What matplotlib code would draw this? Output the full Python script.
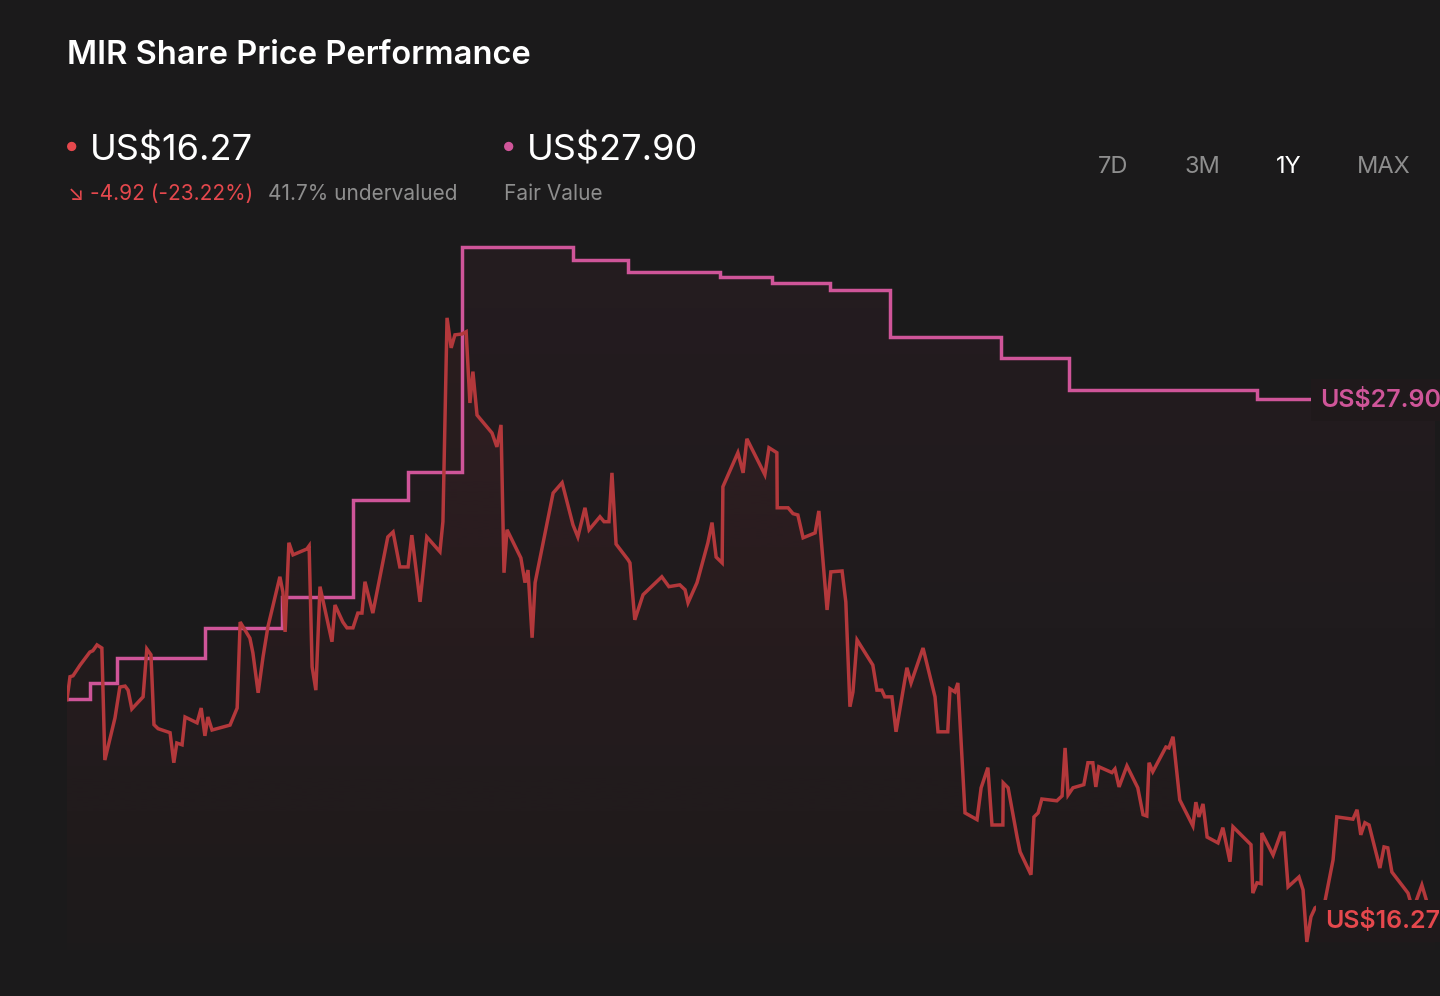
import matplotlib
matplotlib.use("Agg")
import matplotlib.pyplot as plt
import numpy as np
from matplotlib.colors import to_rgba

# ---------------- data ----------------
price_days = [0.0, 0.8, 1.6, 3.5, 6.1, 6.9, 8.0, 9.3, 10.1, 12.8, 14.1, 15.5, 16.3, 17.3, 20.3,
              21.3, 22.4, 23.2, 24.3, 27.5, 28.5, 29.3, 30.7, 31.5, 34.7, 35.8, 36.8, 37.6, 38.7,
              43.5, 44.3, 45.4, 46.2, 48.8, 49.6, 51.0, 52.3, 53.6, 56.8, 57.6, 58.2, 59.2, 60.3,
              64.0, 64.6, 65.4, 66.4, 67.5, 70.7, 71.5, 73.6, 74.7, 76.3, 77.6, 78.7, 79.5, 81.6,
              85.6, 87.0, 88.8, 91.0, 92.0, 94.2, 96.0, 99.5, 100.3, 101.4, 102.5, 103.5, 105.4,
              106.5, 107.5, 108.3, 109.4, 113.4, 114.7, 115.8, 116.6, 117.4, 121.1, 122.2, 123.0,
              124.1, 124.9, 129.7, 132.1, 135.0, 136.3, 138.2, 139.3, 142.2, 143.3, 144.6, 145.4,
              146.5, 149.7, 150.2, 151.5, 153.7, 158.7, 160.6, 163.5, 164.9, 165.7, 168.1, 171.0,
              172.1, 173.2, 174.8, 175.0, 179.0, 180.4, 181.4, 186.2, 187.3, 189.4, 189.5, 192.4,
              193.7, 195.0, 196.4, 199.6, 200.6, 202.8, 203.8, 206.8, 207.8, 208.9, 209.7, 210.8,
              215.0, 216.1, 217.4, 218.2, 220.1, 221.2, 224.1, 225.2, 228.4, 231.6, 232.4, 235.0,
              235.6, 236.9, 237.7, 239.6, 242.8, 243.9, 245.7, 246.8, 249.7, 249.8, 251.1, 253.5,
              254.3, 257.2, 258.0, 259.1, 260.1, 264.1, 265.5, 266.3, 267.1, 268.4, 271.3, 272.4,
              273.7, 274.5, 275.3, 278.8, 279.6, 280.7, 282.8, 285.7, 287.1, 288.1, 288.7, 289.7,
              293.2, 294.0, 295.1, 296.9, 300.4, 301.2, 302.0, 303.1, 304.2, 307.1, 308.4, 310.3,
              311.1, 315.9, 316.4, 317.5, 318.6, 318.8, 321.8, 323.9, 324.7, 325.8, 328.7, 329.8,
              330.8, 331.9, 333.0, 335.6, 337.8, 338.8, 343.1, 344.2, 345.2, 346.3, 347.4, 350.3,
              351.4, 352.4, 353.5, 357.8, 359.1, 361.5, 363.1, 365.0]
price_values = [21.19, 21.70, 21.72, 21.96, 22.25, 22.28, 22.41, 22.34, 19.84, 20.78, 21.47, 21.49,
                21.40, 20.98, 21.25, 22.32, 22.19, 20.63, 20.54, 20.45, 19.78, 20.22, 20.18, 20.80,
                20.67, 21.00, 20.38, 20.80, 20.51, 20.62, 20.78, 21.00, 22.92, 22.56, 22.23, 21.34,
                22.14, 22.81, 23.93, 23.59, 22.70, 24.69, 24.42, 24.55, 24.62, 21.92, 21.40, 23.71,
                22.48, 23.30, 22.92, 22.79, 22.79, 23.12, 23.12, 23.82, 23.12, 24.82, 24.93, 24.15,
                24.15, 24.86, 23.37, 24.82, 24.49, 25.16, 29.71, 29.04, 29.33, 29.35, 29.40, 27.81,
                28.51, 27.54, 27.14, 26.83, 27.32, 24.02, 24.98, 24.35, 23.80, 24.08, 22.57, 23.80,
                25.80, 26.03, 25.09, 24.82, 25.47, 24.98, 25.27, 25.16, 25.16, 26.25, 24.66, 24.31,
                24.24, 22.97, 23.53, 23.93, 23.71, 23.75, 23.64, 23.35, 23.80, 24.69, 25.14, 24.37,
                24.24, 25.94, 26.70, 26.25, 27.01, 26.21, 26.81, 26.70, 25.47, 25.47, 25.34, 25.31,
                24.80, 24.91, 25.40, 23.19, 24.04, 24.06, 23.37, 21.03, 21.36, 22.52, 21.96, 21.40,
                21.40, 21.25, 21.25, 20.47, 21.90, 21.56, 22.34, 21.25, 20.47, 20.47, 21.43, 21.36,
                21.56, 18.66, 18.51, 19.22, 19.67, 18.39, 18.39, 19.33, 19.22, 18.12, 17.79, 17.28,
                18.57, 18.66, 18.97, 18.93, 19.04, 20.11, 19.06, 19.22, 19.29, 19.78, 19.78, 19.24,
                19.69, 19.56, 19.64, 19.24, 19.71, 19.22, 18.62, 18.59, 19.78, 19.58, 20.13, 20.11,
                20.36, 18.95, 18.37, 18.90, 18.57, 18.86, 18.12, 17.99, 18.33, 17.57, 18.35, 17.95,
                16.87, 17.10, 17.08, 18.21, 17.72, 18.21, 18.21, 17.01, 17.23, 16.94, 15.78, 16.34,
                16.54, 16.67, 17.61, 18.57, 18.52, 18.73, 18.17, 18.44, 18.39, 17.43, 17.90, 17.88,
                17.34, 16.87, 16.49, 17.05, 16.60, 16.27]

fv_days = [0.0, 6.1, 13.3, 36.8, 57.4, 76.3, 91.0, 105.4, 135.0, 149.7, 174.2, 188.1, 203.6,
           219.6, 249.2, 267.3, 317.5, 365.0]
fv_values = [21.20, 21.56, 22.12, 22.79, 23.48, 25.65, 26.27, 31.29, 31.00, 30.73, 30.62, 30.49,
             30.33, 29.28, 28.82, 28.10, 27.90, 27.90]

title = "MIR Share Price Performance"
price_label = "US$16.27"
change_label = "\u2198 -4.92 (-23.22%)"
under_label = "41.7% undervalued"
fv_label = "US$27.90"
fv_caption = "Fair Value"
ranges = ["7D", "3M", "1Y", "MAX"]
active_range = "1Y"

# ---------------- style ----------------
BG = "#1b1a1b"
RED = "#b3383b"
RED_TXT = "#e5484d"
PINK = "#cf5599"
GREY = "#8e8e8e"
FONT = ["Inter", "DejaVu Sans"]
plt.rcParams["font.family"] = FONT

W, H = 1440, 996
fig = plt.figure(figsize=(W / 100, H / 100), dpi=100, facecolor=BG)

YMIN, YMAX = 15.6, 31.5
ax = fig.add_axes([67 / W, 0.0462, 1368 / W, 0.7152])
ax.set_facecolor("none")
ax.set_xlim(0, 365)
ax.set_ylim(YMIN, YMAX)
ax.axis("off")


def grad_fill(x, y, color, a_top, a_bot, step=None, z=1):
    fb = ax.fill_between(x, y, YMIN, step=step, color="none", lw=0)
    top = max(y)
    n = 256
    rgba = np.zeros((n, 1, 4))
    rgba[..., :3] = to_rgba(color)[:3]
    rgba[:, 0, 3] = np.linspace(a_top, a_bot, n)
    im = ax.imshow(rgba, extent=[0, 365, YMIN, top], aspect="auto", origin="upper",
                   zorder=z, interpolation="bilinear")
    im.set_clip_path(fb.get_paths()[0], transform=ax.transData)


grad_fill(fv_days, fv_values, "#c04070", 0.06, 0.0, step="post", z=1)
grad_fill(price_days, price_values, "#c03a3e", 0.09, 0.015, z=2)

ax.plot(fv_days, fv_values, drawstyle="steps-post", color=PINK, lw=2.5, zorder=4,
        solid_joinstyle="miter")
ax.plot(price_days, price_values, color=RED, lw=2.5, zorder=5, solid_joinstyle="miter")


def px(x, y):
    return x / W, 1 - y / H


# end labels
box = dict(boxstyle="square,pad=0.35", fc="#1f191b", ec="none")
fig.text(*px(1320, 400), fv_label, color=PINK, fontsize=18, weight="semibold",
         va="center", ha="left", bbox=box, zorder=10)
fig.text(*px(1325, 921), price_label, color=RED_TXT, fontsize=18, weight="semibold",
         va="center", ha="left", bbox=box, zorder=10)

# header
fig.text(*px(67, 55), title, color="white", fontsize=23.5, weight="semibold", va="center")

fig.text(*px(72, 148), "\u25cf", color=RED_TXT, fontsize=9, va="center", ha="center")
fig.text(*px(90, 150), price_label, color="white", fontsize=26, va="center")
fig.text(*px(68, 194), change_label, color=RED_TXT, fontsize=15, va="center")
fig.text(*px(268, 194), under_label, color=GREY, fontsize=15, va="center")

fig.text(*px(509, 148), "\u25cf", color=PINK, fontsize=9, va="center", ha="center")
fig.text(*px(527, 150), fv_label, color="white", fontsize=26, va="center")
fig.text(*px(504, 194), fv_caption, color=GREY, fontsize=15, va="center")

for lab, xc in zip(ranges, [1113, 1202, 1289, 1384]):
    fig.text(*px(xc, 167), lab, color="white" if lab == active_range else GREY,
             fontsize=17, va="center", ha="center")

fig.savefig("out.png", dpi=100, facecolor=BG)
